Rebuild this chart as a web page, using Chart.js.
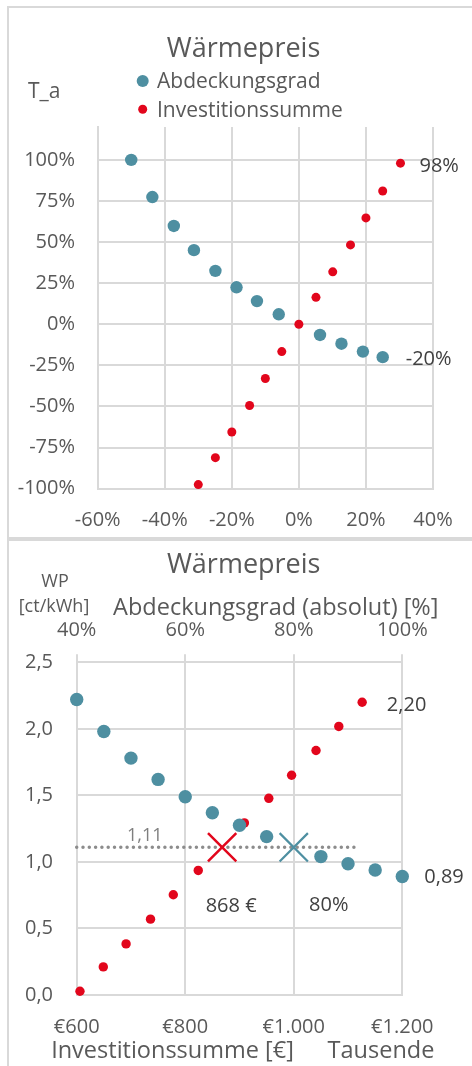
<!DOCTYPE html>
<html lang="de">
<head>
<meta charset="UTF-8">
<title>Wärmepreis</title>
<script src="https://cdn.jsdelivr.net/npm/chart.js"></script>
<style>
  html, body { margin: 0; padding: 0; background: #fff; overflow: hidden; }
  body { width: 472px; height: 1066px; position: relative; }
  .rahmen { position: absolute; left: 7px; width: 520px; border: 2px solid #d9d9d9; box-sizing: border-box; }
  #rahmen1 { top: 6px; height: 533px; }
  #rahmen2 { top: 539px; height: 600px; }
  canvas { position: absolute; left: 0; }
  #chartOben { top: 0; }
  #chartUnten { top: 538px; }
</style>
</head>
<body>
<div class="rahmen" id="rahmen1"></div>
<div class="rahmen" id="rahmen2"></div>
<canvas id="chartOben" width="472" height="538"></canvas>
<canvas id="chartUnten" width="472" height="528"></canvas>
<script>
// oberes Diagramm: relative Änderungen
const abdeckungRelX = [-0.50, -0.437, -0.373, -0.313, -0.249, -0.186, -0.125, -0.06, 0.063, 0.127, 0.191, 0.25];
const abdeckungRelY = [1.00, 0.774, 0.598, 0.451, 0.325, 0.225, 0.141, 0.061, -0.065, -0.118, -0.166, -0.20];
const investRelX = [-0.30, -0.249, -0.20, -0.147, -0.10, -0.051, 0, 0.051, 0.101, 0.154, 0.20, 0.25, 0.303];
const investRelY = [-0.975, -0.811, -0.655, -0.494, -0.33, -0.166, 0, 0.164, 0.319, 0.483, 0.647, 0.811, 0.98];
const ticksRelX = [-0.6, -0.4, -0.2, 0, 0.2, 0.4];
const ticksRelY = [-1, -0.75, -0.5, -0.25, 0, 0.25, 0.5, 0.75, 1];

// unteres Diagramm: absolute Werte
const abdeckungAbs = [0.40, 0.45, 0.50, 0.55, 0.60, 0.65, 0.70, 0.75, 0.85, 0.90, 0.95, 1.00];
const abdeckungWP = [2.22, 1.98, 1.78, 1.62, 1.49, 1.37, 1.275, 1.19, 1.04, 0.986, 0.939, 0.89];
const investSumme = [606, 649, 691, 736, 778, 824, 909, 954, 996, 1041, 1083, 1126]; // Tausend €
const investWP = [0.028, 0.211, 0.384, 0.57, 0.753, 0.936, 1.293, 1.478, 1.651, 1.837, 2.018, 2.20];
const wpBasis = 1.11;
const investBasis = 868;
const abdeckungBasis = 0.80;
const wpLinieX = [600, 1119];
const ticksInvest = [600, 800, 1000, 1200];
const ticksAbdeckung = [0.4, 0.6, 0.8, 1.0];
const ticksWP = [0, 0.5, 1, 1.5, 2, 2.5];

const BLAU = '#4e8fa1';
const ROT = '#e2061c';
const GRAU = '#595959';
const DUNKEL = '#404040';
const GITTER = '#d9d9d9';

Chart.defaults.font.family = "'Open Sans', sans-serif";
Chart.defaults.color = GRAU;

const toPoints = (xs, ys) => xs.map((x, i) => ({ x: x, y: ys[i] }));
const fixTicks = (werte) => (scale) => { scale.ticks = werte.map(v => ({ value: v })); };
const prozent = (v) => Math.round(v * 100) + '%';
const komma = (v) => v.toFixed(1).replace('.', ',');
const komma2 = (v) => v.toFixed(2).replace('.', ',');
const euro = (v) => '€' + String(v).replace(/\B(?=(\d{3})+(?!\d))/g, '.');

function text(ctx, str, x, y, size, align, color, base) {
  ctx.font = size + "px 'Open Sans', sans-serif";
  ctx.fillStyle = color || GRAU;
  ctx.textAlign = align || 'left';
  ctx.textBaseline = base || 'alphabetic';
  ctx.fillText(str, x, y);
}
function punkt(ctx, x, y, r, color) {
  ctx.beginPath();
  ctx.arc(x, y, r, 0, Math.PI * 2);
  ctx.fillStyle = color;
  ctx.fill();
}

const gitter = { color: GITTER, lineWidth: 2, drawTicks: false };
const rand = { color: GITTER, width: 2 };
const tickFont = { size: 20 };

// oberes Diagramm
new Chart(document.getElementById('chartOben'), {
  type: 'scatter',
  data: {
    datasets: [
      { label: 'Abdeckungsgrad', data: toPoints(abdeckungRelX, abdeckungRelY), pointBackgroundColor: BLAU, pointBorderWidth: 0, pointRadius: 6.2, clip: false },
      { label: 'Investitionssumme', data: toPoints(investRelX, investRelY), pointBackgroundColor: ROT, pointBorderWidth: 0, pointRadius: 4.5, clip: false }
    ]
  },
  options: {
    responsive: false,
    animation: false,
    layout: { padding: { top: 127, right: 33.3, left: 0, bottom: 0 } },
    plugins: { legend: { display: false }, tooltip: { enabled: false } },
    scales: {
      x: {
        type: 'linear', min: -0.6, max: 0.4,
        afterBuildTicks: fixTicks(ticksRelX),
        afterFit: (s) => { s.height = 49.3; },
        grid: gitter, border: rand,
        ticks: { callback: prozent, padding: 19.3, font: tickFont, maxRotation: 0, autoSkip: false }
      },
      y: {
        type: 'linear', min: -1, max: 1.2,
        afterBuildTicks: fixTicks(ticksRelY),
        afterFit: (s) => { s.width = 97.7; },
        grid: gitter, border: rand,
        ticks: { callback: prozent, padding: 22.7, font: tickFont, autoSkip: false }
      }
    }
  },
  plugins: [{
    id: 'texteOben',
    afterDraw(chart) {
      const ctx = chart.ctx, sx = chart.scales.x, sy = chart.scales.y;
      ctx.save();
      text(ctx, 'Wärmepreis', 243.5, 57, 27, 'center');
      text(ctx, 'T_a', 28, 98, 21);
      punkt(ctx, 142.7, 81, 6, BLAU);
      text(ctx, 'Abdeckungsgrad', 157, 88.3, 21);
      punkt(ctx, 142.7, 109.3, 4.5, ROT);
      text(ctx, 'Investitionssumme', 157, 116.7, 21);
      const iR = investRelX.length - 1;
      text(ctx, prozent(investRelY[iR]), sx.getPixelForValue(investRelX[iR]) + 19,
        sy.getPixelForValue(investRelY[iR]) + 3, 20, 'left', DUNKEL, 'middle');
      const iB = abdeckungRelX.length - 1;
      text(ctx, prozent(abdeckungRelY[iB]), sx.getPixelForValue(abdeckungRelX[iB]) + 23,
        sy.getPixelForValue(abdeckungRelY[iB]) + 2, 20, 'left', DUNKEL, 'middle');
      ctx.restore();
    }
  }]
});

// unteres Diagramm
new Chart(document.getElementById('chartUnten'), {
  type: 'scatter',
  data: {
    datasets: [
      { label: 'Abdeckungsgrad', xAxisID: 'x2', data: toPoints(abdeckungAbs, abdeckungWP), pointBackgroundColor: BLAU, pointBorderWidth: 0, pointRadius: 6.7, clip: false },
      { label: 'Investitionssumme', xAxisID: 'x', data: toPoints(investSumme, investWP), pointBackgroundColor: ROT, pointBorderWidth: 0, pointRadius: 4.7, clip: false },
      { label: 'Abdeckungsgrad Basis', xAxisID: 'x2', data: [{ x: abdeckungBasis, y: wpBasis }], pointStyle: 'crossRot', pointRadius: 20, pointBorderColor: BLAU, pointBorderWidth: 2.2, clip: false },
      { label: 'Investition Basis', xAxisID: 'x', data: [{ x: investBasis, y: wpBasis }], pointStyle: 'crossRot', pointRadius: 20, pointBorderColor: ROT, pointBorderWidth: 2.5, clip: false },
      { label: 'WP Basis', xAxisID: 'x', data: wpLinieX.map(x => ({ x: x, y: wpBasis })), showLine: true, borderColor: '#8c8c8c', borderWidth: 3.5, borderDash: [0, 6.3], borderCapStyle: 'round', pointRadius: 0, clip: false }
    ]
  },
  options: {
    responsive: false,
    animation: false,
    layout: { padding: { top: 84.3, right: 69.7, left: 0, bottom: 0 } },
    plugins: { legend: { display: false }, tooltip: { enabled: false } },
    scales: {
      x: {
        type: 'linear', position: 'bottom', min: 600, max: 1200,
        afterBuildTicks: fixTicks(ticksInvest),
        afterFit: (s) => { s.height = 71; },
        grid: gitter, border: rand,
        ticks: { callback: euro, padding: 20.7, font: tickFont, maxRotation: 0, autoSkip: false }
      },
      x2: {
        type: 'linear', position: 'top', min: 0.4, max: 1.0,
        afterBuildTicks: fixTicks(ticksAbdeckung),
        afterFit: (s) => { s.height = 40; },
        grid: { color: GITTER, lineWidth: 2, drawOnChartArea: false, drawTicks: true, tickLength: 8 },
        border: rand,
        ticks: { callback: prozent, padding: 12.3, font: tickFont, maxRotation: 0, autoSkip: false }
      },
      y: {
        type: 'linear', min: 0, max: 2.5,
        afterBuildTicks: fixTicks(ticksWP),
        afterFit: (s) => { s.width = 76.7; },
        grid: gitter, border: rand,
        ticks: { callback: komma, padding: 23.7, font: tickFont, autoSkip: false }
      }
    }
  },
  plugins: [{
    id: 'texteUnten',
    afterDraw(chart) {
      const ctx = chart.ctx, sx = chart.scales.x, sx2 = chart.scales.x2, sy = chart.scales.y;
      ctx.save();
      text(ctx, 'Wärmepreis', 243.7, 35.3, 27, 'center');
      text(ctx, 'WP', 55, 48.7, 18, 'center');
      text(ctx, '[ct/kWh]', 54, 74, 18, 'center');
      text(ctx, 'Abdeckungsgrad (absolut) [%]', 275.8, 77, 23.5, 'center');
      text(ctx, 'Investitionssumme [€]', 172.5, 520.3, 23.5, 'center');
      text(ctx, 'Tausende', 381, 520.3, 23.5, 'center');
      const yB = sy.getPixelForValue(wpBasis);
      text(ctx, komma2(wpBasis), sx.getPixelForValue(wpLinieX[0]) + 68, yB - 11.7, 18, 'center', '#7f7f7f', 'middle');
      text(ctx, investBasis + ' €', sx.getPixelForValue(investBasis) + 9, yB + 59, 20, 'center', DUNKEL, 'middle');
      text(ctx, prozent(abdeckungBasis), sx2.getPixelForValue(abdeckungBasis) + 35, yB + 58, 20, 'center', DUNKEL, 'middle');
      const iR = investSumme.length - 1;
      text(ctx, komma2(investWP[iR]), sx.getPixelForValue(investSumme[iR]) + 24.7,
        sy.getPixelForValue(investWP[iR]) + 3.4, 20, 'left', DUNKEL, 'middle');
      const iB = abdeckungAbs.length - 1;
      text(ctx, komma2(abdeckungWP[iB]), sx2.getPixelForValue(abdeckungAbs[iB]) + 22,
        sy.getPixelForValue(abdeckungWP[iB]) + 1, 20, 'left', DUNKEL, 'middle');
      ctx.restore();
    }
  }]
});
</script>
</body>
</html>
